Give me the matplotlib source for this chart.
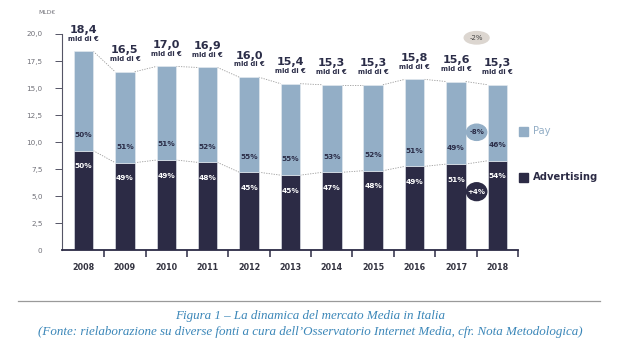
import matplotlib.pyplot as plt
from matplotlib.patches import Ellipse, Rectangle
import numpy as np

# Mercato Media in Italia (mld di €) e quota Advertising / Pay
anni = ['2008', '2009', '2010', '2011', '2012', '2013', '2014', '2015', '2016', '2017', '2018']
totale = [18.4, 16.5, 17.0, 16.9, 16.0, 15.4, 15.3, 15.3, 15.8, 15.6, 15.3]
quota_adv = [50, 49, 49, 48, 45, 45, 47, 48, 49, 51, 54]
quota_pay = [50, 51, 51, 52, 55, 55, 53, 52, 51, 49, 46]
y_ticks = [0, 2.5, 5.0, 7.5, 10.0, 12.5, 15.0, 17.5, 20.0]

COL_PAY = '#93aec6'
COL_ADV = '#2c2b45'
COL_TXT = '#2b2d48'
COL_CAP = '#3a86b8'

fig = plt.figure(figsize=(6.2, 3.48), dpi=100)
ax = fig.add_axes([0.1, 0.2816, 0.7355, 0.6207])

x = np.arange(len(anni))
tot = np.array(totale)
adv = tot * np.array(quota_adv) / 100
pay = tot - adv
w = 0.47

ax.bar(x, adv, width=w, color=COL_ADV, edgecolor='#e8edf2', linewidth=0.4, zorder=2)
ax.bar(x, pay, width=w, bottom=adv, color=COL_PAY, edgecolor='#e8edf2', linewidth=0.4, zorder=2)

# linee tratteggiate tra le barre
for i in range(len(x) - 1):
    ax.plot([x[i] + w / 2, x[i + 1] - w / 2], [tot[i], tot[i + 1]],
            ls=(0, (1.5, 1.5)), color='#9a9a9a', lw=0.6, zorder=1)
    ax.plot([x[i] + w / 2, x[i + 1] - w / 2], [adv[i], adv[i + 1]],
            ls=(0, (1.5, 1.5)), color='#9a9a9a', lw=0.6, zorder=1)

# etichette di valore e percentuali
for i in range(len(x)):
    ax.annotate(f'{totale[i]:.1f}'.replace('.', ','), (x[i], tot[i]),
                xytext=(0, 15.5), textcoords='offset points', ha='center', va='center',
                fontsize=8, fontweight='bold', color=COL_TXT, annotation_clip=False)
    ax.annotate('mld di €', (x[i], tot[i]),
                xytext=(0, 9.2), textcoords='offset points', ha='center', va='center',
                fontsize=4.9, fontweight='bold', color=COL_TXT, annotation_clip=False)
    ax.text(x[i], adv[i] + 1.45, f'{quota_pay[i]}%', ha='center', va='center',
            fontsize=5.3, fontweight='bold', color=COL_TXT, zorder=3)
    ax.text(x[i], adv[i] - 1.45, f'{quota_adv[i]}%', ha='center', va='center',
            fontsize=5.3, fontweight='bold', color='white', zorder=3)

# variazioni 2017-2018
ax.add_patch(Ellipse((9.5, 19.65), 0.6, 1.15, color='#dcd6d0', clip_on=False, zorder=3))
ax.text(9.5, 19.65, '-2%', ha='center', va='center', fontsize=5, color='#444444', zorder=4)
ax.add_patch(Ellipse((9.5, 10.9), 0.49, 1.5, color=COL_PAY, clip_on=False, zorder=3))
ax.text(9.5, 10.9, '-8%', ha='center', va='center', fontsize=5, fontweight='bold', color=COL_TXT, zorder=4)
ax.add_patch(Ellipse((9.5, 5.4), 0.49, 1.65, color=COL_ADV, clip_on=False, zorder=3))
ax.text(9.5, 5.4, '+4%', ha='center', va='center', fontsize=5, fontweight='bold', color='white', zorder=4)

# assi
ax.set_xlim(-0.52, 10.5)
ax.set_ylim(0, 20)
ax.spines['top'].set_visible(False)
ax.spines['right'].set_visible(False)
ax.spines['bottom'].set_color(COL_ADV)
ax.spines['bottom'].set_linewidth(1.3)
ax.spines['left'].set_color('#555566')
ax.spines['left'].set_linewidth(0.8)

ax.set_xticks(x)
ax.set_xticklabels(anni, fontsize=5.8, fontweight='bold', color='#333340')
ax.set_xticks(np.arange(0.5, 11, 1), minor=True)
ax.tick_params(axis='x', which='major', length=0, pad=9)
ax.tick_params(axis='x', which='minor', length=5, width=1.1, color=COL_ADV, direction='out')

ax.set_yticks(y_ticks)
ax.set_yticklabels(['0' if v == 0 else f'{v:.1f}'.replace('.', ',') for v in y_ticks],
                   fontsize=5.2, color='#707078')
ax.tick_params(axis='y', length=5, width=0.7, color='#555566', pad=9)
ax.get_yticklines()[0].set_visible(False)

fig.text(38 / 620, 1 - 13 / 348, 'MLD€', fontsize=4.4, color='#707078', ha='left', va='center')

# legenda
fig.patches.append(Rectangle((519 / 620, 1 - 136 / 348), 9 / 620, 9 / 348,
                             transform=fig.transFigure, color=COL_PAY, figure=fig))
fig.text(533 / 620, 1 - 131.5 / 348, 'Pay', fontsize=7.2, color=COL_PAY, va='center')
fig.patches.append(Rectangle((519 / 620, 1 - 182 / 348), 9 / 620, 9 / 348,
                             transform=fig.transFigure, color=COL_ADV, figure=fig))
fig.text(533 / 620, 1 - 177.5 / 348, 'Advertising', fontsize=7.2, fontweight='bold',
         color=COL_ADV, va='center')

# didascalia
fig.add_artist(plt.Line2D([18 / 620, 600 / 620], [1 - 301 / 348, 1 - 301 / 348],
                          transform=fig.transFigure, color='#9a9a9a', lw=0.9))
fig.text(0.5, 1 - 316 / 348, 'Figura 1 – La dinamica del mercato Media in Italia',
         ha='center', va='center', fontsize=9.4, style='italic',
         family='Liberation Serif', color=COL_CAP)
fig.text(0.5, 1 - 332 / 348,
         '(Fonte: rielaborazione su diverse fonti a cura dell’Osservatorio Internet Media, cfr. Nota Metodologica)',
         ha='center', va='center', fontsize=9.4, style='italic',
         family='Liberation Serif', color=COL_CAP)

fig.savefig('out.png', dpi=100)
